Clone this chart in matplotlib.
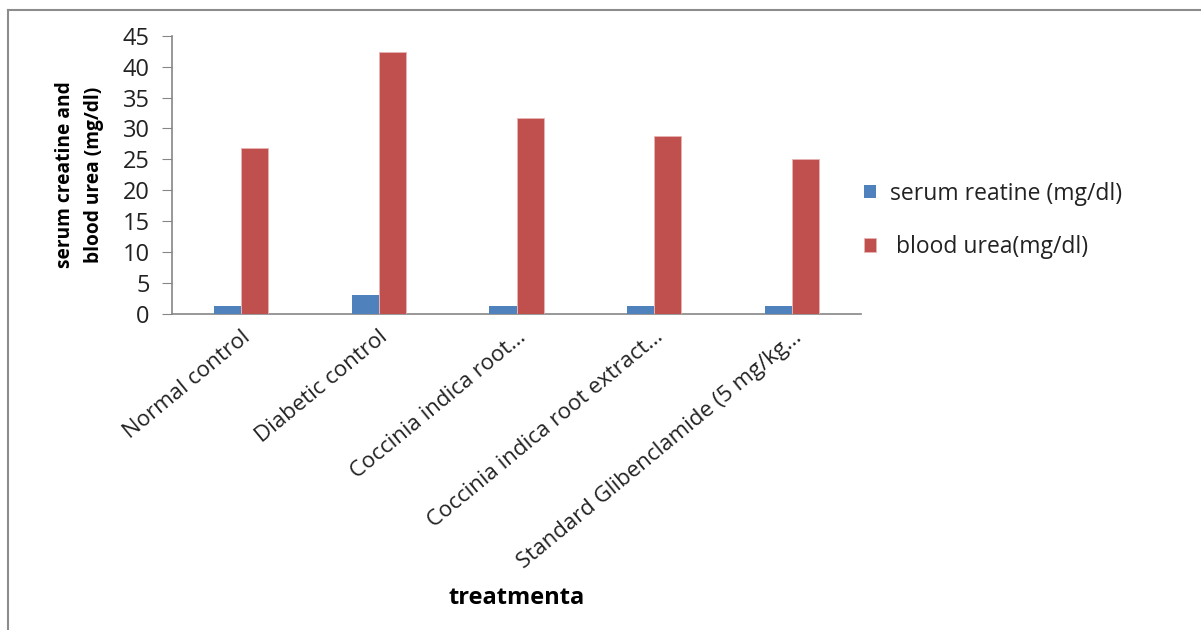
import matplotlib
matplotlib.use("Agg")
import matplotlib.pyplot as plt
from matplotlib.lines import Line2D
import numpy as np

categories = [
    "Normal control",
    "Diabetic control",
    "Coccinia indica root\u2026",
    "Coccinia indica root extract\u2026",
    "Standard Glibenclamide (5 mg/kg\u2026",
]
serum_creatine = [1.3, 3.0, 1.3, 1.3, 1.3]
blood_urea = [26.8, 42.3, 31.7, 28.8, 25.0]
series_labels = ["serum reatine (mg/dl)", " blood urea(mg/dl)"]
yticks = [0, 5, 10, 15, 20, 25, 30, 35, 40, 45]

plt.rcParams["font.family"] = ["Open Sans", "DejaVu Sans"]

W, H = 1201, 630
fig = plt.figure(figsize=(W / 100, H / 100), dpi=100)
ax = fig.add_axes([172 / W, 1 - 314 / H, (861 - 172) / W, (314 - 35.7) / H])

x = np.arange(len(categories))
bw = 0.196
ax.bar(x - bw / 2, serum_creatine, bw, color="#4F81BD", label=series_labels[0], zorder=3)
ax.bar(x + bw / 2, blood_urea, bw, color="#C0504D", edgecolor="#E8B5B4",
       linewidth=0.6, label=series_labels[1], zorder=3)

ax.set_xlim(-0.5, len(categories) - 0.5)
ax.set_ylim(0, 45)
ax.set_yticks(yticks)
ax.tick_params(axis="y", labelsize=17, length=7, color="#868686", pad=9,
               labelcolor="#222222")
ax.set_xticks(x)
ax.set_xticklabels(categories, rotation=39.5, ha="right", va="top",
                   rotation_mode="anchor", fontsize=16, color="#222222")
ax.tick_params(axis="x", length=0, pad=9)

for s in ["top", "right"]:
    ax.spines[s].set_visible(False)
for s in ["left", "bottom"]:
    ax.spines[s].set_color("#868686")
    ax.spines[s].set_linewidth(1.2)

fig.text(79 / W, 1 - 175 / H, "serum creatine and\nblood urea (mg/dl)",
         rotation=90, ha="center", va="center", fontsize=13.8, fontweight="bold",
         linespacing=1.6)
fig.text(517 / W, 1 - 598 / H, "treatmenta", ha="center", va="center",
         fontsize=17, fontweight="bold")

leg = ax.legend(loc="upper left", bbox_to_anchor=(843 / W, 1 - 161 / H),
                bbox_transform=fig.transFigure, frameon=False, fontsize=16.5,
                handlelength=0.55, handleheight=0.55, handletextpad=0.6,
                labelspacing=1.3, labelcolor="#222222")

# chart frame edges
fig.add_artist(Line2D([8 / W, 8 / W], [0, 1 - 10 / H], transform=fig.transFigure,
                      color="#8c8c8c", linewidth=1.5))
fig.add_artist(Line2D([8 / W, 1], [1 - 10 / H, 1 - 10 / H], transform=fig.transFigure,
                      color="#8c8c8c", linewidth=1.5))

fig.savefig("out.png", dpi=100)
